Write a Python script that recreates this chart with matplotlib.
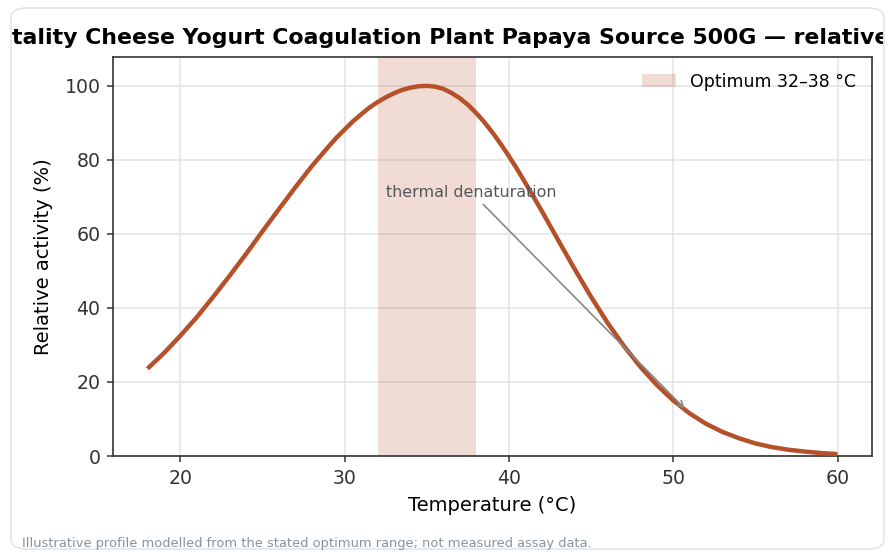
import matplotlib
matplotlib.use("Agg")
import matplotlib.pyplot as plt
from matplotlib.patches import FancyBboxPatch
from matplotlib.transforms import Bbox

# ---- data ----
temperature_c = [18, 19, 20, 21, 22, 23, 24, 25, 26, 27, 28, 29, 29.5, 30, 30.5, 31, 31.5,
                 32, 32.5, 33, 33.5, 34, 34.5, 35, 35.5, 36, 36.5, 37, 37.5, 38, 38.5,
                 39, 39.5, 40, 40.5, 41, 42, 43, 44, 45, 46, 47, 48, 49, 50, 51, 52, 53,
                 54, 55, 56, 57, 58, 59, 60]
relative_activity = [23.6, 27.8, 32.5, 37.5, 43.0, 48.7, 54.6, 60.7, 66.7, 72.6, 78.3, 83.5,
                     86.0, 88.2, 90.4, 92.3, 94.1, 95.6, 96.9, 98.0, 98.9, 99.5, 99.9,
                     100.0, 99.8, 99.2, 98.1, 96.7, 94.9, 92.7, 90.2, 87.4, 84.3, 81.0,
                     77.5, 73.8, 66.2, 58.3, 50.5, 43.0, 36.0, 29.7, 24.1, 19.2, 15.0,
                     11.5, 8.7, 6.5, 4.8, 3.4, 2.4, 1.7, 1.2, 0.8, 0.5]
optimum_range = [32, 38]
x_ticks = [20, 30, 40, 50, 60]
y_ticks = [0, 20, 40, 60, 80, 100]
annot_text = "thermal denaturation"
annot_xy = [50.7, 12.8]
annot_xytext = [37.7, 71.3]
title_text = "Hospitality Cheese Yogurt Coagulation Plant Papaya Source 500G \u2014 relative activity"
legend_label = "Optimum 32\u201338 \u00b0C"
footnote = "Illustrative profile modelled from the stated optimum range; not measured assay data."

LINE = "#b5502a"
W, H = 888, 552

plt.rcParams['font.family'] = ['DejaVu Sans']
fig = plt.figure(figsize=(W / 100, H / 100), dpi=100)
fig.patch.set_facecolor("white")

# card border
card = FancyBboxPatch((11 / W, 1 - 549 / H), (884 - 11) / W, (549 - 8) / H,
                      boxstyle="round,pad=0,rounding_size=0.018",
                      transform=fig.transFigure, facecolor="none",
                      edgecolor="#e1e6eb", linewidth=1.2, zorder=-5)
fig.patches.append(card)

ax = fig.add_axes([113 / W, 1 - 456 / H, (872 - 113) / W, (456 - 57) / H])
ax.set_facecolor("white")

ax.axvspan(optimum_range[0], optimum_range[1], color=LINE, alpha=0.2, lw=0,
           label=legend_label, zorder=1)
ax.plot(temperature_c, relative_activity, color=LINE, lw=3.2, zorder=3,
        solid_capstyle="butt", solid_joinstyle="round")

ax.set_xlim(15.9, 62.1)
ax.set_ylim(0, 107.8)
ax.set_xticks(x_ticks)
ax.set_yticks(y_ticks)
ax.grid(True, color="#e1e5ea", lw=1.1, zorder=0)
ax.set_axisbelow(True)
for s in ax.spines.values():
    s.set_color("#333333")
    s.set_linewidth(1.2)
ax.tick_params(axis="both", which="major", length=4, width=1.1, color="#333333",
               labelsize=13.6, labelcolor="#333333", pad=5)

ax.set_xlabel("Temperature (\u00b0C)", fontsize=14, color="black", labelpad=6)
ax.set_ylabel("Relative activity (%)", fontsize=14, color="black", labelpad=8)

ax.annotate(annot_text, xy=annot_xy, xytext=annot_xytext, ha="center", va="center",
            fontsize=11.4, color="#555555",
            arrowprops=dict(arrowstyle="->", color="#888888", lw=1.2,
                            shrinkA=2, shrinkB=0), zorder=4)

leg = ax.legend(loc="upper right", frameon=False, fontsize=12.5,
                handlelength=2.0, borderaxespad=0.5)

title = fig.text(-58 / W, 1 - 38 / H, title_text, ha="left", va="center",
                 fontsize=15.8, fontweight="bold", color="black")
# the title is wider than the card and is cut at the card's inner edges
title.set_clip_box(Bbox.from_extents(12, 0, 883, H))
title.set_clip_on(True)

fig.text(22 / W, 1 - 544 / H, footnote, ha="left", va="center", fontsize=9.4,
         color="#8a939c")

fig.savefig("out.png", dpi=100, facecolor="white")
